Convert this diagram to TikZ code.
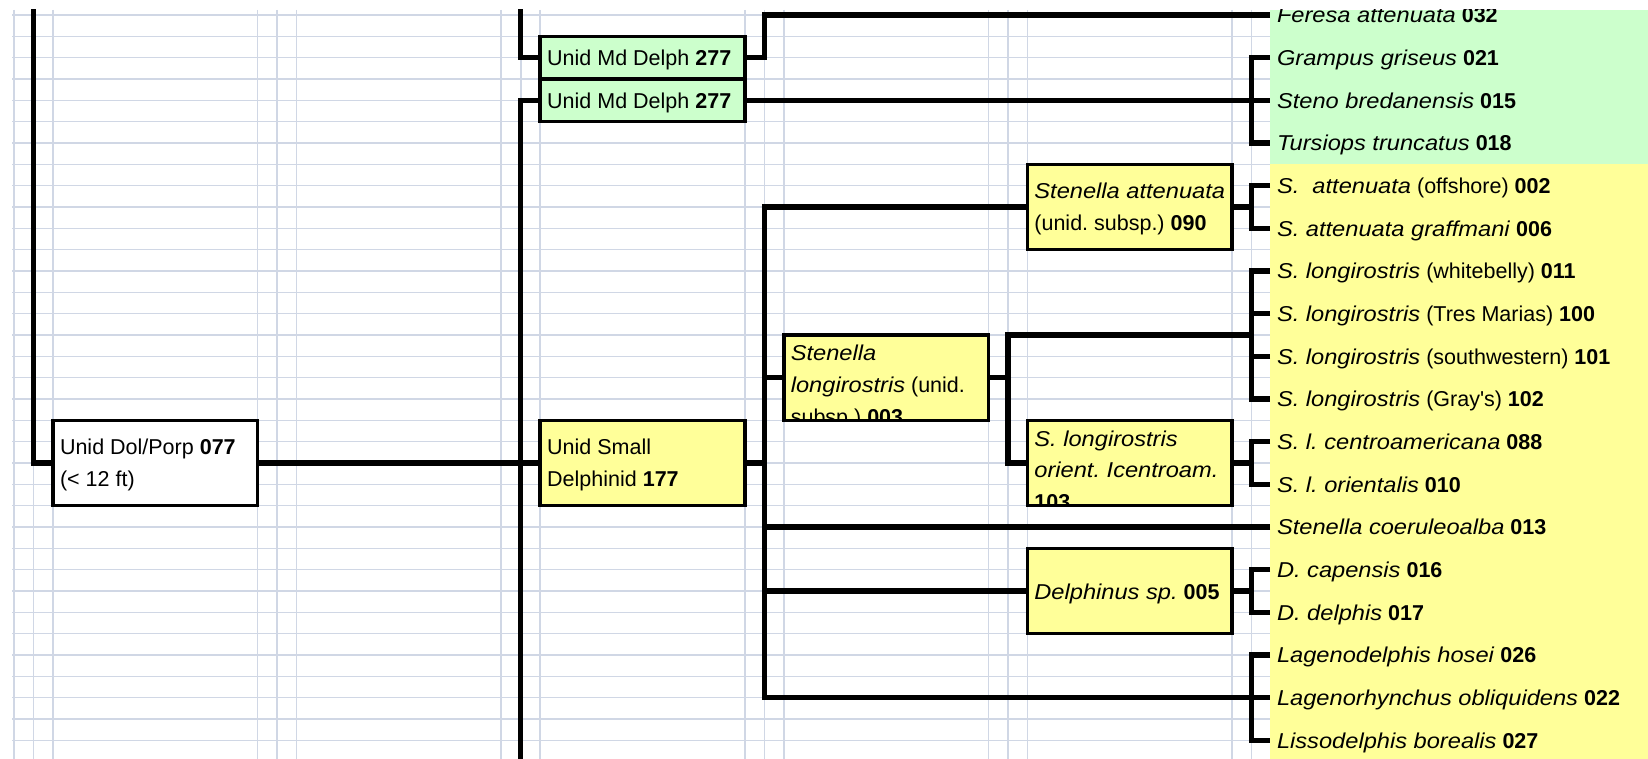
\documentclass[tikz,border=0pt]{standalone}
\usepackage{fontspec}
\setmainfont{Liberation Sans}[ItalicFeatures={FakeStretch=1.1}]
\usetikzlibrary{calc}
\definecolor{gridc}{RGB}{208,215,229}
\definecolor{lgreen}{RGB}{204,255,204}
\definecolor{lyellow}{RGB}{255,255,153}
\newcommand{\mylines}[1]{\begin{tabular}[t]{@{}l@{}}#1\end{tabular}}
\frenchspacing
\tikzset{
  gridline/.style={draw=gridc, line width=1.6pt},
  conn/.style={draw=black, line width=5.4pt},
  boxnode/.style={draw=black, line width=3.6pt, inner sep=0pt, outer sep=0pt, minimum width=204.6pt, minimum height=85.33pt},
  halfbox/.style={boxnode, minimum height=42.67pt},
  boxlabel/.style={anchor=base west, inner sep=0pt, outer sep=0pt, font=\fontsize{21.5}{31.7}\selectfont},
  species/.style={anchor=west, inner xsep=7pt, inner ysep=0pt, outer sep=0pt, text height=15.4pt, text depth=0pt, font=\fontsize{21.5}{25}\selectfont},
}
\begin{document}
\begin{tikzpicture}[x=1pt, y=-1pt]
\useasboundingbox (0,0) rectangle (1648,759);
\begin{scope}
\clip (12,10) rectangle (1648,759);
% grid
\foreach \n in {0,...,35} \draw[gridline] (12,{15+21.3333*\n}) -- (1271,{15+21.3333*\n});
\foreach \g in {0,...,5} \foreach \d in {0,19.5,39} \draw[gridline] ({14+243.6*\g+\d},10) -- ({14+243.6*\g+\d},759);
% fills
\fill[lgreen] (1270,10) rectangle (1648,164.33);
\fill[lyellow] (1270,164.33) rectangle (1648,759);
% helper coordinates
\coordinate (b3) at (764.3,0);
\coordinate (b4) at (1007.9,0);
\coordinate (b5) at (1251.5,0);
\coordinate (top0) at (33.5,0);
\coordinate (top2) at (520.7,0);
\coordinate (bot2) at (520.7,775);
\coordinate (j4) at (1007.9,335);
% boxes
\node[boxnode, fill=white] (dolporp) at (155.3,463) {};
\node[halfbox, fill=lgreen] (md1) at (642.5,57.67) {};
\node[halfbox, fill=lgreen] (md2) at (642.5,100.33) {};
\node[boxnode, fill=lyellow] (smalldel) at (642.5,463) {};
\node[boxnode, fill=lyellow] (satt) at (1129.7,207) {};
\node[boxnode, fill=lyellow] (slong) at (886.1,377.67) {};
\node[boxnode, fill=lyellow] (sorient) at (1129.7,463) {};
\node[boxnode, fill=lyellow] (delphinus) at (1129.7,591) {};
% box labels
\node[boxlabel] (dolporpL) at ($(dolporp.west)+(7,-8.6)$) {\mylines{Unid Dol/Porp \textbf{077}\\(< 12 ft)}};
\node[boxlabel] (md1L) at ($(md1.west)+(7,7.7)$) {Unid Md Delph \textbf{277}};
\node[boxlabel] (md2L) at ($(md2.west)+(7,7.7)$) {Unid Md Delph \textbf{277}};
\node[boxlabel] (smalldelL) at ($(smalldel.west)+(7,-8.6)$) {\mylines{Unid Small\\Delphinid \textbf{177}}};
\node[boxlabel] (sattL) at ($(satt.west)+(7,-8.6)$) {\mylines{\textit{Stenella attenuata}\\(unid. subsp.) \textbf{090}}};
\node[boxlabel] (delphinusL) at ($(delphinus.west)+(7,8.5)$) {\textit{Delphinus sp.}\ \textbf{005}};
\begin{scope}
\clip ($(slong.south west)+(1.8,-1.8)$) rectangle ($(slong.north east)+(-1.8,1.8)$);
\node[boxlabel] (slongL) at ($(slong.west)+(7,-16.7)$) {\mylines{\textit{Stenella}\\\textit{longirostris}\ (unid.\\subsp.) \textbf{003}}};
\end{scope}
\begin{scope}
\clip ($(sorient.south west)+(1.8,-1.8)$) rectangle ($(sorient.north east)+(-1.8,1.8)$);
\node[boxlabel] (sorientL) at ($(sorient.west)+(7,-17)$) {\mylines{\textit{S. longirostris}\\\textit{orient. Icentroam.}\\\textbf{103}}};
\end{scope}
% species
\node[species] (feresa) at (1270,15) {\textit{Feresa attenuata} \textbf{032}};
\node[species] (grampus) at (1270,57.67) {\textit{Grampus griseus} \textbf{021}};
\node[species] (steno) at (1270,100.33) {\textit{Steno bredanensis} \textbf{015}};
\node[species] (tursiops) at (1270,143) {\textit{Tursiops truncatus} \textbf{018}};
\node[species] (offshore) at (1270,185.67) {\textit{S.~~attenuata} (offshore) \textbf{002}};
\node[species] (graffmani) at (1270,228.33) {\textit{S. attenuata graffmani} \textbf{006}};
\node[species] (whitebelly) at (1270,271) {\textit{S. longirostris} (whitebelly) \textbf{011}};
\node[species] (tresmarias) at (1270,313.67) {\textit{S. longirostris} (Tres Marias) \textbf{100}};
\node[species] (southwestern) at (1270,356.33) {\textit{S. longirostris} (southwestern) \textbf{101}};
\node[species] (grays) at (1270,399) {\textit{S. longirostris} (Gray\textquotesingle s) \textbf{102}};
\node[species] (centro) at (1270,441.67) {\textit{S. l. centroamericana} \textbf{088}};
\node[species] (orientalis) at (1270,484.33) {\textit{S. l. orientalis} \textbf{010}};
\node[species] (coerul) at (1270,527) {\textit{Stenella coeruleoalba} \textbf{013}};
\node[species] (capensis) at (1270,569.67) {\textit{D. capensis} \textbf{016}};
\node[species] (ddelphis) at (1270,612.33) {\textit{D. delphis} \textbf{017}};
\node[species] (lagenod) at (1270,655) {\textit{Lagenodelphis hosei} \textbf{026}};
\node[species] (lagenor) at (1270,697.67) {\textit{Lagenorhynchus obliquidens} \textbf{022}};
\node[species] (lisso) at (1270,740.33) {\textit{Lissodelphis borealis} \textbf{027}};
% connectors
\draw[conn] (top0) |- (dolporp.west);
\draw[conn] (dolporp.east) -- (smalldel.west);
\draw[conn] (top2) |- (md1.west);
\draw[conn] (bot2) |- (md2.west);
\draw[conn] (md1.east) -| (feresa.west -| b3) -- (feresa.west);
\draw[conn] (md2.east) -- (steno.west);
\draw[conn] (grampus.west) -- ++(-18.5,0) |- (tursiops.west);
\draw[conn] (satt.west) -| (lagenor.west -| b3) -- (lagenor.west);
\draw[conn] (smalldel.east) -- (smalldel.east -| b3);
\draw[conn] (slong.west) -- (slong.west -| b3);
\draw[conn] (coerul.west) -- (coerul.west -| b3);
\draw[conn] (delphinus.west) -- (delphinus.west -| b3);
\draw[conn] (satt.east) -- (satt.east -| b5);
\draw[conn] (offshore.west) -- ++(-18.5,0) |- (graffmani.west);
\draw[conn] (slong.east) -- (slong.east -| b4);
\draw[conn] (sorient.west) -| (j4) -- (j4 -| b5);
\draw[conn] (whitebelly.west) -- ++(-18.5,0) |- (grays.west);
\draw[conn] (tresmarias.west) -- ++(-18.5,0);
\draw[conn] (southwestern.west) -- ++(-18.5,0);
\draw[conn] (sorient.east) -- (sorient.east -| b5);
\draw[conn] (centro.west) -- ++(-18.5,0) |- (orientalis.west);
\draw[conn] (delphinus.east) -- (delphinus.east -| b5);
\draw[conn] (capensis.west) -- ++(-18.5,0) |- (ddelphis.west);
\draw[conn] (lagenod.west) -- ++(-18.5,0) |- (lisso.west);
\end{scope}
\end{tikzpicture}
\end{document}
